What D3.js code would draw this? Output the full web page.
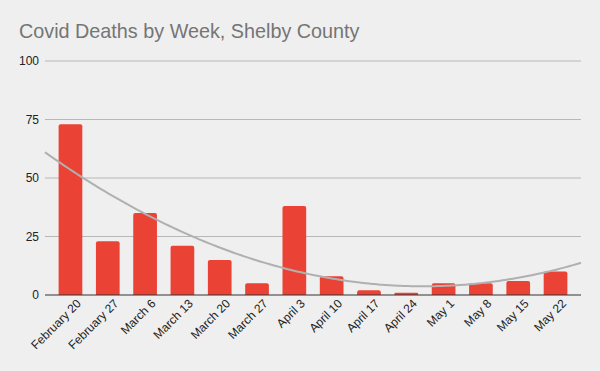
<!DOCTYPE html>
<html>
<head>
<meta charset="utf-8">
<script src="https://cdn.jsdelivr.net/npm/d3@7"></script>
<style>
  body { margin: 0; background: #efefef; }
  text { font-family: Arial, "Liberation Sans", sans-serif; }
</style>
</head>
<body>
<div id="chart"></div>
<script>
// Data
var weeks = ["February 20", "February 27", "March 6", "March 13", "March 20", "March 27",
  "April 3", "April 10", "April 17", "April 24", "May 1", "May 8", "May 15", "May 22"];
var deaths = [73, 23, 35, 21, 15, 5, 38, 8, 2, 1, 5, 5, 6, 10];
var yTicks = [0, 25, 50, 75, 100];

var svgWidth = 600;
var svgHeight = 371;

var margin = { top: 61, right: 19, bottom: 76, left: 45 };
var width = svgWidth - margin.left - margin.right;
var height = svgHeight - margin.top - margin.bottom;

var svg = d3.select("#chart")
  .append("svg")
  .attr("width", svgWidth)
  .attr("height", svgHeight)
  .style("background", "#efefef");

// Title
svg.append("text")
  .attr("x", 19)
  .attr("y", 38)
  .attr("font-size", "19.8px")
  .attr("fill", "#757575")
  .text("Covid Deaths by Week, Shelby County");

var chartGroup = svg.append("g")
  .attr("transform", `translate(${margin.left}, ${margin.top})`);

// Scales
var xScale = d3.scaleBand()
  .domain(weeks)
  .range([0, width])
  .padding(0.365);

var yScale = d3.scaleLinear()
  .domain([0, 100])
  .range([height, 0]);

// Gridlines
chartGroup.append("g")
  .selectAll("line")
  .data(yTicks.filter(d => d > 0))
  .enter()
  .append("line")
  .attr("x1", 0)
  .attr("x2", width)
  .attr("y1", d => yScale(d))
  .attr("y2", d => yScale(d))
  .attr("stroke", "#b7b7b7")
  .attr("stroke-width", 1);

// Y axis labels
var leftAxis = d3.axisLeft(yScale).tickValues(yTicks).tickSize(0).tickPadding(6);
chartGroup.append("g")
  .call(leftAxis)
  .call(g => g.select(".domain").remove())
  .selectAll("text")
  .attr("font-size", "12px")
  .attr("fill", "#222");

// Bars (rounded top corners)
var r = 2;
chartGroup.append("g")
  .selectAll("path")
  .data(deaths)
  .enter()
  .append("path")
  .attr("fill", "#ea4335")
  .attr("d", function(d, i) {
    var x0 = xScale(weeks[i]);
    var w = xScale.bandwidth();
    var y0 = yScale(d);
    var h = height - y0;
    var rr = Math.min(r, h / 2);
    return `M${x0},${height}V${y0 + rr}Q${x0},${y0} ${x0 + rr},${y0}` +
      `H${x0 + w - rr}Q${x0 + w},${y0} ${x0 + w},${y0 + rr}V${height}Z`;
  });

// Baseline
chartGroup.append("line")
  .attr("x1", 0)
  .attr("x2", width)
  .attr("y1", height)
  .attr("y2", height)
  .attr("stroke", "#333")
  .attr("stroke-width", 1);

// X axis labels
var bottomAxis = d3.axisBottom(xScale).tickSize(0).tickPadding(6);
chartGroup.append("g")
  .attr("transform", `translate(0, ${height})`)
  .call(bottomAxis)
  .call(g => g.select(".domain").remove())
  .selectAll("text")
  .attr("font-size", "12px")
  .attr("fill", "#222")
  .attr("text-anchor", "end")
  .attr("transform", "translate(2,0) rotate(-45)")
  .attr("dy", "0.6em");

// Polynomial (degree 2) trendline fitted to the data, x = week index
function polyFit2(xs, ys) {
  var n = xs.length, s = [0, 0, 0, 0, 0], t = [0, 0, 0];
  for (var i = 0; i < n; i++) {
    var x = xs[i], y = ys[i];
    for (var k = 0; k < 5; k++) s[k] += Math.pow(x, k);
    for (var k2 = 0; k2 < 3; k2++) t[k2] += y * Math.pow(x, k2);
  }
  var A = [[s[0], s[1], s[2], t[0]], [s[1], s[2], s[3], t[1]], [s[2], s[3], s[4], t[2]]];
  for (var c = 0; c < 3; c++) {
    for (var rI = c + 1; rI < 3; rI++) {
      var f = A[rI][c] / A[c][c];
      for (var j = c; j < 4; j++) A[rI][j] -= f * A[c][j];
    }
  }
  var b = [0, 0, 0];
  for (var c2 = 2; c2 >= 0; c2--) {
    var sum = A[c2][3];
    for (var j2 = c2 + 1; j2 < 3; j2++) sum -= A[c2][j2] * b[j2];
    b[c2] = sum / A[c2][c2];
  }
  return b;
}

var idx = deaths.map((d, i) => i);
var coef = polyFit2(idx, deaths);
var step = xScale.step();
var firstCenter = xScale(weeks[0]) + xScale.bandwidth() / 2;
var idxScale = d3.scaleLinear()
  .domain([firstCenter, firstCenter + step])
  .range([0, 1]);

var trendPts = d3.range(0, width + 1, 4).map(function(px) {
  var xi = idxScale(px);
  return [px, coef[0] + coef[1] * xi + coef[2] * xi * xi];
});

chartGroup.append("path")
  .datum(trendPts)
  .attr("fill", "none")
  .attr("stroke", "#b0b0b0")
  .attr("stroke-width", 2)
  .attr("d", d3.line().x(d => d[0]).y(d => yScale(d[1])).curve(d3.curveMonotoneX));
</script>
</body>
</html>
